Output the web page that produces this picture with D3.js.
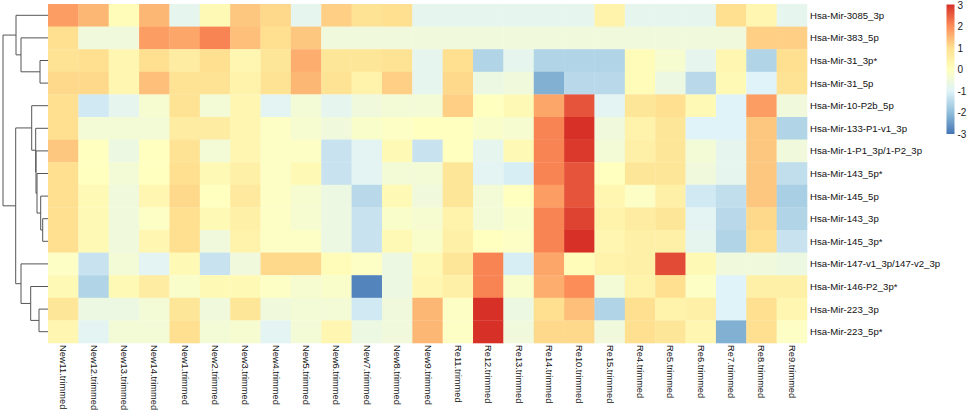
<!DOCTYPE html>
<html>
<head>
<meta charset="utf-8">
<script src="https://cdn.jsdelivr.net/npm/d3@7"></script>
<style>
  body { margin: 0; background: #fff; }
  text { font-family: "Liberation Sans", Arial, sans-serif; }
</style>
</head>
<body>
<script>
// Row (miRNA) and column (sample) labels, in the clustered order shown
const rowLabels = [
  "Hsa-Mir-3085_3p", "Hsa-Mir-383_5p", "Hsa-Mir-31_3p*", "Hsa-Mir-31_5p",
  "Hsa-Mir-10-P2b_5p", "Hsa-Mir-133-P1-v1_3p", "Hsa-Mir-1-P1_3p/1-P2_3p",
  "Hsa-Mir-143_5p*", "Hsa-Mir-145_5p", "Hsa-Mir-143_3p", "Hsa-Mir-145_3p*",
  "Hsa-Mir-147-v1_3p/147-v2_3p", "Hsa-Mir-146-P2_3p*", "Hsa-Mir-223_3p", "Hsa-Mir-223_5p*"
];

const colLabels = [
  "New11.trimmed", "New12.trimmed", "New13.trimmed", "New14.trimmed", "New1.trimmed",
  "New2.trimmed", "New3.trimmed", "New4.trimmed", "New5.trimmed", "New6.trimmed",
  "New7.trimmed", "New8.trimmed", "New9.trimmed", "Re11.trimmed", "Re12.trimmed",
  "Re13.trimmed", "Re14.trimmed", "Re10.trimmed", "Re15.trimmed", "Re4.trimmed",
  "Re5.trimmed", "Re6.trimmed", "Re7.trimmed", "Re8.trimmed", "Re9.trimmed"
];

// Row-scaled expression, one array per row (same order as rowLabels)
const values = [
  [1.8, 1.5, 0.1, 1.5, -0.8, 0.2, 1.3, 1.1, -0.8, 1.2, 0.9, 1.0, -0.8, -0.8, -0.8, -0.8, -0.8, -0.8, 0.4, -0.8, -0.8, -0.8, 1.0, 0.3, -0.8],
  [1.0, -0.5, -0.5, 1.8, 1.7, 2.1, 1.4, 1.0, 1.3, -0.5, -0.5, -0.5, -0.5, -0.5, -0.5, -0.5, -0.5, -0.5, -0.5, -0.5, -0.5, -0.5, -0.5, 1.2, 1.2],
  [0.9, 1.0, 0.3, 1.0, 0.6, 1.0, 0.3, 0.8, 1.6, 0.8, 0.8, 0.9, -0.8, 1.0, -1.6, -0.8, -1.6, -1.6, -1.6, 0.1, -0.3, -0.8, 0.3, -1.6, 1.0],
  [1.1, 1.1, 0.3, 1.4, 0.9, 0.9, 0.4, 0.9, 1.5, 0.9, 0.4, 1.2, -0.8, 1.1, -0.6, -0.5, -2.2, -1.5, -1.5, 0.1, -0.6, -1.5, 0.2, -1.0, 0.9],
  [1.0, -1.2, -0.8, -0.3, 0.9, -0.4, 0.3, -0.9, -0.4, -0.8, -0.5, -0.4, -0.4, 1.2, 0.0, 0.2, 1.7, 2.6, -0.9, 0.8, 1.0, 0.2, -1.0, 1.8, -0.5],
  [1.0, -0.4, -0.4, -0.4, 0.6, 0.6, 0.3, -0.1, -0.3, -0.5, -0.2, -0.1, 0.0, 0.0, -0.2, -0.3, 2.1, 3.0, -0.5, 0.4, 0.8, -1.0, -1.0, 1.3, -1.6],
  [1.3, 0.0, -0.6, 0.0, 0.9, -0.4, 0.3, -0.1, -0.1, -1.3, -0.9, 0.2, -1.3, 0.0, -0.8, 0.2, 2.1, 2.9, -0.4, 0.5, 0.8, -0.4, -0.8, 1.3, -0.5],
  [1.0, 0.0, -0.4, 0.0, 1.0, 0.2, 0.5, -0.1, 0.2, -1.3, -0.9, -0.4, -0.4, 0.8, -0.9, -1.1, 2.1, 2.6, 0.0, 0.8, 0.8, -0.5, -0.8, 1.3, -1.4],
  [1.0, 0.2, -0.5, 0.3, 1.1, 0.0, 0.7, -0.1, -0.3, -0.6, -1.5, 0.2, -0.5, 0.8, -0.4, 0.0, 1.8, 2.6, 0.3, -0.1, 0.5, -1.2, -1.4, 1.3, -1.7],
  [1.0, 0.2, -0.5, -0.1, 1.0, 0.2, 0.5, -0.1, -0.3, -0.6, -1.3, -0.2, -0.3, 0.4, -0.4, -0.2, 2.1, 2.8, 0.4, 0.6, 0.8, -0.9, -1.5, 1.1, -1.6],
  [1.0, 0.2, -0.5, 0.3, 1.0, -0.5, 0.4, -0.1, -0.1, -0.6, -1.3, 0.2, -0.2, 0.5, 0.0, -0.1, 2.1, 3.0, 0.3, 0.5, 0.5, -0.8, -1.6, 1.0, -1.3],
  [-0.1, -1.3, -0.4, -0.9, 0.2, -1.3, -0.5, 1.1, 1.1, 0.1, -0.1, -0.6, 0.2, 0.8, 2.1, -1.1, 1.7, 0.1, 0.4, 0.5, 2.7, 0.2, -0.5, -0.5, -0.6],
  [0.2, -1.6, 0.2, 0.6, -0.2, 0.2, 0.2, -0.1, -0.3, -0.2, -2.8, -0.6, 0.3, 0.5, 2.1, -0.2, 1.6, 2.0, -0.4, 0.4, 1.0, -0.1, -1.0, 0.5, 0.5],
  [0.8, -0.6, -0.6, -0.4, 0.8, -0.5, 0.8, -0.5, -0.4, -0.4, -1.2, -0.5, 1.5, -0.1, 3.0, -0.6, 1.0, 1.4, -1.6, 1.0, 0.4, 0.5, -1.0, 1.0, 0.3],
  [0.3, -0.9, -0.4, -0.4, 1.0, -0.4, -0.3, -0.9, -0.4, 0.3, -0.6, -0.5, 1.5, -0.1, 3.0, -0.5, 1.1, 1.1, -0.5, 1.0, 0.8, 0.3, -2.2, 1.0, -0.1]
];

// Row dendrogram merges: [left, right, height]
// numbers = row index, "mK" = result of merge K
const rowMerges = [
  [9, 10, 0.53],        // m0
  [8, "m0", 0.73],      // m1
  [2, 3, 0.80],         // m2
  [13, 14, 0.90],       // m3
  [7, "m1", 1.10],      // m4
  [6, "m4", 1.20],      // m5
  [5, "m5", 1.23],      // m6
  [4, "m6", 1.63],      // m7
  [12, "m3", 1.73],     // m8
  [1, "m2", 2.70],      // m9
  [11, "m8", 2.70],     // m10
  [0, "m9", 3.20],      // m11
  ["m7", "m10", 3.23],  // m12
  ["m11", "m12", 4.50]  // m13
];

const legendTicks = [3, 2, 1, 0, -1, -2, -3];
const paletteStops = [-3, -2, -1, 0, 1, 2, 3];
const paletteColors = ["#4575B4", "#91BFDB", "#E0F3F8", "#FFFFBF", "#FEE090", "#FC8D59", "#D73027"];

const width = 969, height = 412;
const heat = { left: 48, right: 807, top: 4, bottom: 343 };

const svg = d3.select("body").append("svg")
  .attr("width", width)
  .attr("height", height);

const x = d3.scaleBand().domain(colLabels).range([heat.left, heat.right]);
const y = d3.scaleBand().domain(rowLabels).range([heat.top, heat.bottom]);
const color = d3.scaleLinear().domain(paletteStops).range(paletteColors).clamp(true);

// heatmap cells
const cells = [];
values.forEach((row, i) => row.forEach((v, j) => cells.push({ r: rowLabels[i], c: colLabels[j], v })));

svg.append("g").selectAll("rect")
  .data(cells)
  .join("rect")
  .attr("x", d => x(d.c))
  .attr("y", d => y(d.r))
  .attr("width", x.bandwidth() + 0.3)
  .attr("height", y.bandwidth() + 0.3)
  .attr("fill", d => color(d.v));

// row labels
svg.append("g").selectAll("text")
  .data(rowLabels)
  .join("text")
  .attr("x", heat.right + 3)
  .attr("y", d => y(d) + y.bandwidth() / 2)
  .attr("dominant-baseline", "central")
  .attr("font-size", 9.6)
  .attr("fill", "#111")
  .text(d => d);

// column labels, rotated
svg.append("g").selectAll("text")
  .data(colLabels)
  .join("text")
  .attr("transform", d => `translate(${x(d) + x.bandwidth() / 2},${heat.bottom + 2}) rotate(90)`)
  .attr("dominant-baseline", "central")
  .attr("font-size", 9.3)
  .attr("fill", "#111")
  .text(d => d);

// row dendrogram
const merged = [];
const ref = v => typeof v === "number" ? { h: 0, row: v } : merged[+v.slice(1)];
rowMerges.forEach(([a, b, h]) => merged.push({ h, children: [ref(a), ref(b)] }));

const root = d3.hierarchy(merged[merged.length - 1]);
const hx = d3.scaleLinear().domain([0, d3.max(rowMerges, d => d[2])]).range([heat.left, 3]);

root.eachAfter(n => {
  n.py = n.children ? d3.mean(n.children, c => c.py) : y(rowLabels[n.data.row]) + y.bandwidth() / 2;
  n.px = hx(n.data.h);
});

svg.append("g")
  .attr("fill", "none")
  .attr("stroke", "#555")
  .attr("stroke-width", 1)
  .selectAll("path")
  .data(root.descendants().filter(n => n.children))
  .join("path")
  .attr("d", n => {
    const [a, b] = n.children;
    return `M${a.px},${a.py}H${n.px}V${b.py}H${b.px}`;
  });

// colour legend
const ly = d3.scaleLinear().domain([-3, 3]).range([134, 5.5]);
const grad = svg.append("defs").append("linearGradient")
  .attr("id", "legendGrad")
  .attr("x1", 0).attr("y1", 1).attr("x2", 0).attr("y2", 0);
grad.selectAll("stop")
  .data(paletteStops)
  .join("stop")
  .attr("offset", d => (d + 3) / 6)
  .attr("stop-color", d => color(d));

svg.append("rect")
  .attr("x", 946.5)
  .attr("y", ly(3) - 1)
  .attr("width", 8)
  .attr("height", ly(-3) - ly(3) + 1)
  .attr("fill", "url(#legendGrad)");

svg.append("g").selectAll("text")
  .data(legendTicks)
  .join("text")
  .attr("x", 957.5)
  .attr("y", d => ly(d))
  .attr("dominant-baseline", "central")
  .attr("font-size", 10)
  .attr("fill", "#222")
  .text(d => d);
</script>
</body>
</html>
